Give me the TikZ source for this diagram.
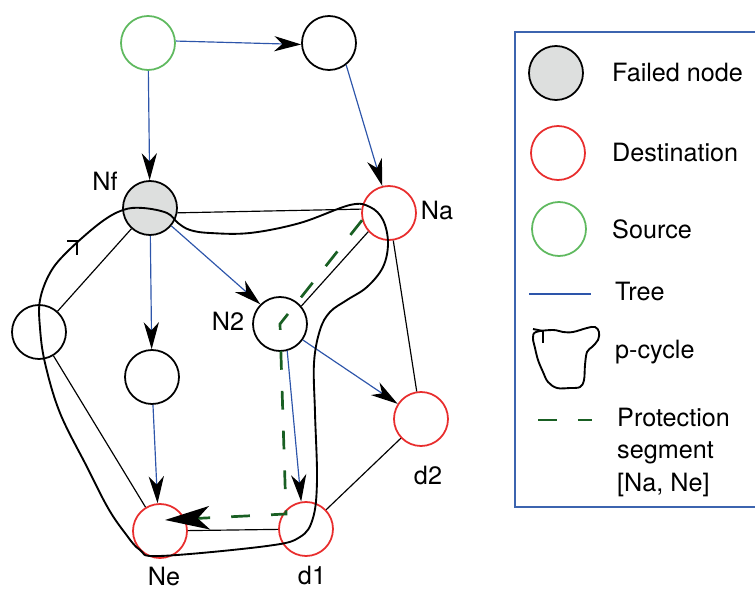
\documentclass[tikz,border=0pt]{standalone}
\usepackage{fontspec}
\setmainfont{TeX Gyre Heros}
\usetikzlibrary{arrows.meta}
\usetikzlibrary{positioning}

\definecolor{treeblue}{RGB}{45,85,170}
\definecolor{destred}{RGB}{232,45,45}
\definecolor{srcgreen}{RGB}{95,185,95}
\definecolor{protgreen}{RGB}{25,95,35}
\definecolor{failgray}{RGB}{221,223,222}
\definecolor{boxblue}{RGB}{60,100,175}

\begin{document}
\begin{tikzpicture}
  [x=0.03cm,y=0.03cm,font=\fontsize{21.5}{27.6}\selectfont,
  nd/.style={circle,draw=black,line width=1.5pt,inner sep=0pt,minimum size=1.62cm},
  failed/.style={nd,fill=failgray},
  dest/.style={nd,draw=destred},
  srcnd/.style={nd,draw=srcgreen},
  tree/.style={treeblue,line width=1pt,-{Stealth[length=23pt,width=13pt,inset=7pt,color=black]}},
  link/.style={black,line width=1pt},
  prot/.style={protgreen,line width=2.3pt,dash pattern=on 16pt off 18pt},
  cyc/.style={black,line width=1.6pt},
  txt/.style={inner sep=0pt}]
  \useasboundingbox (0,0) rectangle (755,590);

  \node[srcnd] (src) at (148,547) {};
  \node[nd] (top) at (329,547) {};
  \node[failed] (nf) at (150,382) {};
  \node[dest] (na) at (389,377) {};
  \node[nd] (lft) at (39,258) {};
  \node[nd] (mid) at (152,213) {};
  \node[nd] (n2) at (280,266) {};
  \node[dest] (d2) at (421,171) {};
  \node[dest] (ne) at (160,59) {};
  \node[dest] (d1) at (306,61) {};

  \node (lnf) at (105,409) {Nf};
  \node (lna) at (437,379) {Na};
  \node (ln2) at (228,269) {N2};
  \node (ld2) at (428,114) {d2};
  \node[inner sep=1pt] (lne) at (164,13) {Ne};
  \node[inner sep=1pt] (ld1) at (312,14) {d1};

  \draw [link] (nf.-10) -- (na.172);
  \draw [link] (nf) -- (lft);
  \draw [link] (lft) -- (ne);
  \draw [link] (ne) -- (d1);
  \draw [link] (d1) -- (d2);
  \draw [link] (d2) -- (na);
  \draw [link] (n2.40) -- (na.222);

  \draw [tree] (src.4) -- (top.183);
  \draw [tree] (src) -- (nf);
  \draw [tree] (top.-52) -- (na.104);
  \draw [tree] (nf.-40) -- (n2.135);
  \draw [tree] (nf) -- (mid);
  \draw [tree] (mid.-88) -- (ne.95);
  \draw [tree] (n2.-75) -- (d1.100);
  \draw [tree] (n2.-35) -- (d2.147);

  \coordinate (pbend) at (286,76);
  \coordinate (ptip) at (165,70);
  \draw [prot,-{Stealth[length=38pt,width=20pt,inset=10pt,color=black]}] (na.195) -- (n2.center) -- (pbend) -- (ptip);

  \draw [cyc] plot [smooth cycle,tension=0.6] coordinates {(40,290) (50,317) (67,338) (100,367) (123,380) (143,382) (167,377) (178,367) (190,360) (210,357) (250,357) (300,367) (350,385) (370,383) (383,370) (388,347) (383,323) (367,303) (347,290) (330,278) (320,260) (314,227) (315,177) (317,110) (313,72) (300,53) (267,44) (160,34) (140,40) (125,57) (108,82) (87,123) (60,177) (45,227) (40,262)};
  \draw [cyc] (67,349) -- (77,349) -- (77,335);

  % legend
  \draw [boxblue,line width=1.2pt] (515,83) rectangle (758,558);
  \node[failed] (kfail) at (556,517) {};
  \node[dest] (kdest) at (558,437) {};
  \node[srcnd] (ksrc) at (559,361) {};
  \node[txt,anchor=west] (tfail) at (612,517) {Failed node};
  \node[txt,anchor=west] (tdest) at (612,437) {Destination};
  \node[txt,anchor=west] (tsrc) at (612,361) {Source};
  \draw [treeblue,line width=1pt] (529,296) -- (591,296);
  \node[txt,anchor=west] (ttree) at (615,298) {Tree};
  \draw [cyc] plot [smooth cycle,tension=0.6] coordinates {(536,258) (553,260) (563,258) (573,258) (587,262) (595,263) (599,258) (598,250) (592,243) (587,238) (585,225) (584,210) (580,203) (570,202) (557,202) (548,208) (543,218) (538,230) (535,242) (533,252)};
  \draw [cyc] (533,261) -- (543,259) -- (543,247);
  \node[txt,anchor=west] (tcyc) at (615,238) {p-cycle};
  \draw [prot] (538,170) -- (592,170);
  \node[txt,anchor=north west,align=left] (tprot) at (617,182) {Protection\\segment\\{[Na, Ne]}};
\end{tikzpicture}
\end{document}
